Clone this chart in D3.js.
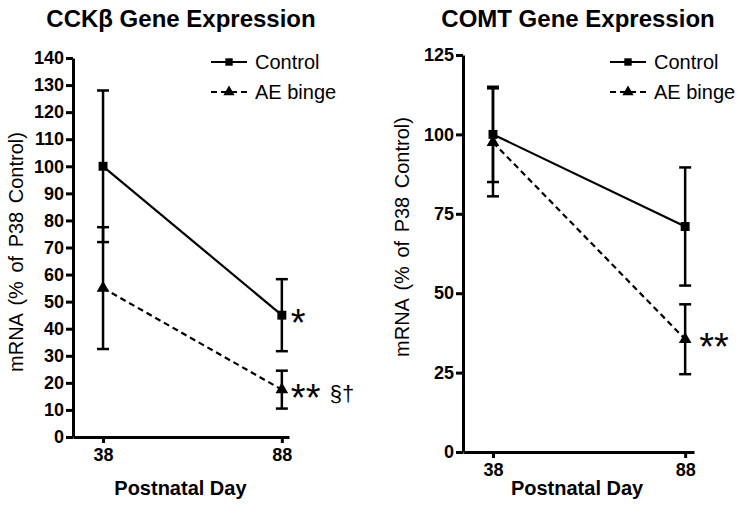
<!DOCTYPE html>
<html>
<head>
<meta charset="utf-8">
<script src="https://cdn.jsdelivr.net/npm/d3@7"></script>
<style>
body { margin: 0; background: #fff; }
text { font-family: "Liberation Sans", Arial, sans-serif; fill: #000; }
.tick text { font-weight: bold; font-size: 18px; }
</style>
</head>
<body>
<svg id="chart" width="750" height="520"></svg>
<script>
// data
const days = [38, 88];
const seriesNames = ['Control', 'AE binge'];

const cckControl = [100, 45],   cckControlErr = [28, 13.3];
const cckAE = [55, 17.5],       cckAEErr = [22.5, 7];
const comtControl = [100, 71],  comtControlErr = [15, 18.6];
const comtAE = [97.5, 35.5],    comtAEErr = [17, 11];

const cckTicks = [0, 10, 20, 30, 40, 50, 60, 70, 80, 90, 100, 110, 120, 130, 140];
const comtTicks = [0, 25, 50, 75, 100, 125];

// significance marks next to the day 88 points
const cckControlMarks = ['', '*'],  cckAEMarks = ['', '**'],  cckAEMarks2 = ['', '§†'];
const comtControlMarks = ['', ''],  comtAEMarks = ['', '**'], comtAEMarks2 = ['', ''];

const panels = [
  { title: 'CCKβ Gene Expression', titleX: 181,
    xRange: [73, 289], xDomain: [29.6, 90], yRange: [437, 58], yDomain: [0, 140], ticks: cckTicks,
    series: [
      { vals: cckControl, errs: cckControlErr, marks: cckControlMarks, marks2: ['', ''] },
      { vals: cckAE, errs: cckAEErr, marks: cckAEMarks, marks2: cckAEMarks2 }
    ],
    legendX: 211, yTitleX: 16, yTitleY: 252, markDx: 9 },
  { title: 'COMT Gene Expression', titleX: 578,
    xRange: [463, 694], xDomain: [30.2, 90.3], yRange: [452, 55], yDomain: [0, 125], ticks: comtTicks,
    series: [
      { vals: comtControl, errs: comtControlErr, marks: comtControlMarks, marks2: ['', ''] },
      { vals: comtAE, errs: comtAEErr, marks: comtAEMarks, marks2: comtAEMarks2 }
    ],
    legendX: 610, yTitleX: 402, yTitleY: 237, markDx: 14 }
];

const svg = d3.select('#chart');
const dashes = [null, '6,4'];
const triangle = d3.symbol().type(d3.symbolTriangle);
const square = d3.symbol().type(d3.symbolSquare);

function marker(g, i, size) {
  g.append('path')
    .attr('d', (i === 0 ? square : triangle).size(size)())
    .attr('fill', '#000');
}

panels.forEach(function(p) {
  const x = d3.scaleLinear().domain(p.xDomain).range(p.xRange);
  const y = d3.scaleLinear().domain(p.yDomain).range(p.yRange);
  const g = svg.append('g');

  // title
  g.append('text')
    .attr('x', p.titleX).attr('y', 27)
    .attr('text-anchor', 'middle')
    .style('font-weight', 'bold').style('font-size', '24px')
    .text(p.title);

  // axes
  const yAxis = d3.axisLeft(y).tickValues(p.ticks).tickSizeInner(7).tickSizeOuter(0).tickPadding(2);
  const xAxis = d3.axisBottom(x).tickValues(days).tickSizeInner(6).tickSizeOuter(0).tickPadding(5);

  g.append('g')
    .attr('transform', 'translate(' + p.xRange[0] + ',0)')
    .call(yAxis)
    .call(a => a.selectAll('path, line').attr('stroke', '#000').attr('stroke-width', 3));
  g.append('g')
    .attr('transform', 'translate(0,' + p.yRange[0] + ')')
    .call(xAxis)
    .call(a => a.selectAll('path, line').attr('stroke', '#000').attr('stroke-width', 3));

  // axis titles
  g.append('text')
    .attr('transform', 'translate(' + p.yTitleX + ',' + p.yTitleY + ') rotate(-90)')
    .attr('text-anchor', 'middle').attr('dy', '0.36em')
    .style('font-size', '20px').style('word-spacing', '3px')
    .text('mRNA (% of P38 Control)');
  g.append('text')
    .attr('x', (x(days[0]) + x(days[1])) / 2 - 12).attr('y', 495)
    .attr('text-anchor', 'middle')
    .style('font-weight', 'bold').style('font-size', '20px')
    .text('Postnatal Day');

  // lines
  const line = d3.line().x((d, i) => x(days[i])).y(d => y(d));
  p.series.forEach(function(s, i) {
    g.append('path')
      .attr('d', line(s.vals))
      .attr('fill', 'none').attr('stroke', '#000').attr('stroke-width', 2.2)
      .attr('stroke-dasharray', dashes[i]);
  });

  // error bars and markers
  p.series.forEach(function(s, i) {
    s.vals.forEach(function(v, j) {
      const cx = x(days[j]);
      const top = y(v + s.errs[j]), bot = y(v - s.errs[j]);
      const eb = g.append('g').attr('stroke', '#000').attr('stroke-width', 2.5);
      eb.append('line').attr('x1', cx).attr('x2', cx).attr('y1', top).attr('y2', bot);
      eb.append('line').attr('x1', cx - 6).attr('x2', cx + 6).attr('y1', top).attr('y2', top);
      eb.append('line').attr('x1', cx - 6).attr('x2', cx + 6).attr('y1', bot).attr('y2', bot);
      g.append('g').attr('transform', 'translate(' + cx + ',' + y(v) + ')')
        .call(m => marker(m, i, i === 0 ? 80 : 70));

      if (s.marks[j]) {
        g.append('text')
          .attr('x', cx + p.markDx).attr('y', y(v) + 21)
          .style('font-size', '38px')
          .text(s.marks[j]);
      }
      if (s.marks2[j]) {
        g.append('text')
          .attr('x', cx + p.markDx + 39).attr('y', y(v) + 11)
          .style('font-size', '22px')
          .text(s.marks2[j]);
      }
    });
  });

  // legend
  seriesNames.forEach(function(name, i) {
    const ly = 62 + i * 30;
    const lg = g.append('g').attr('transform', 'translate(' + p.legendX + ',' + ly + ')');
    lg.append('line').attr('x1', 0).attr('x2', 36).attr('y1', 0).attr('y2', 0)
      .attr('stroke', '#000').attr('stroke-width', 2.2)
      .attr('stroke-dasharray', dashes[i]);
    lg.append('g').attr('transform', 'translate(18,0)').call(m => marker(m, i, 55));
    lg.append('text').attr('x', 44).attr('y', 0).attr('dy', '0.36em')
      .style('font-size', '20px')
      .text(name);
  });
});
</script>
</body>
</html>
